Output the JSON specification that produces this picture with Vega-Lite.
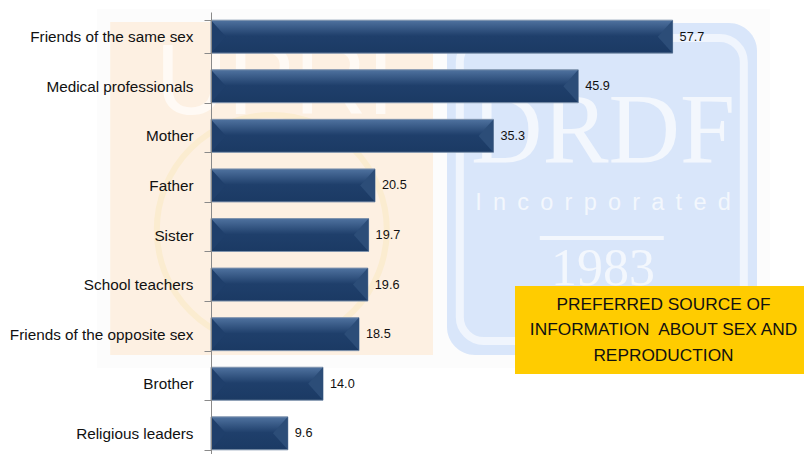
{
"$schema":"https://vega.github.io/schema/vega-lite/v6.json",
"width":593,"height":446,
"padding":{"left":211,"top":12,"right":0,"bottom":0},
"autosize":{"type":"none"},
"background":"white",
"view":{"stroke":null},
"config":{"font":"Liberation Sans"},
"datasets":{
"bars":[
{"source":"Friends of the same sex","pct":57.7,"label":"57.7"},
{"source":"Medical professionals","pct":45.9,"label":"45.9"},
{"source":"Mother","pct":35.3,"label":"35.3"},
{"source":"Father","pct":20.5,"label":"20.5"},
{"source":"Sister","pct":19.7,"label":"19.7"},
{"source":"School teachers","pct":19.6,"label":"19.6"},
{"source":"Friends of the opposite sex","pct":18.5,"label":"18.5"},
{"source":"Brother","pct":14.0,"label":"14.0"},
{"source":"Religious leaders","pct":9.6,"label":"9.6"}
]},
"resolve":{"scale":{"y":"independent"},"axis":{"y":"independent"}},
"layer":[
{"data":{"values":[{"a":-14.25,"b":69.9,"t":-3,"u":356}]},
 "mark":{"type":"rect","color":"#fcfcfc","clip":false},
 "encoding":{"x":{"field":"a","type":"quantitative","scale":{"domain":[0,74.125],"nice":false,"zero":false},"axis":null},"x2":{"field":"b"},
  "y":{"field":"t","type":"quantitative","scale":{"domain":[446,0],"nice":false},"axis":null},"y2":{"field":"u"}}},
{"data":{"values":[{"a":-12.6,"b":27.75,"t":10,"u":343}]},
 "mark":{"type":"rect","color":"#fdf0e2"},
 "encoding":{"x":{"field":"a","type":"quantitative","axis":null},"x2":{"field":"b"},
  "y":{"field":"t","type":"quantitative","scale":{"domain":[446,0],"nice":false},"axis":null},"y2":{"field":"u"}}},
{"data":{"values":[{"cx":7.6,"cy":218}]},
 "mark":{"type":"point","shape":"circle","size":52900,"filled":false,"opacity":1,"stroke":"#fbecd0","strokeWidth":6},
 "encoding":{"x":{"field":"cx","type":"quantitative","axis":null},
  "y":{"field":"cy","type":"quantitative","scale":{"domain":[446,0],"nice":false},"axis":null}}},
{"data":{"values":[{"s":"UPRI","x":8,"y":72}]},
 "mark":{"type":"text","fontSize":100,"color":"#fffaf5","align":"center","baseline":"middle"},
 "encoding":{"x":{"field":"x","type":"quantitative","axis":null},"y":{"field":"y","type":"quantitative","scale":{"domain":[446,0],"nice":false},"axis":null},"text":{"field":"s"}}},
{"data":{"values":[{"a":29.5,"b":68.25,"t":11,"u":343}]},
 "mark":{"type":"rect","color":"#d9e6fa","cornerRadius":28},
 "encoding":{"x":{"field":"a","type":"quantitative","axis":null},"x2":{"field":"b"},
  "y":{"field":"t","type":"quantitative","scale":{"domain":[446,0],"nice":false},"axis":null},"y2":{"field":"u"}}},
{"data":{"values":[{"a":31.1,"b":66.6,"t":26,"u":329}]},
 "mark":{"type":"rect","fillOpacity":0,"stroke":"#f0f5fd","strokeWidth":8,"cornerRadius":24},
 "encoding":{"x":{"field":"a","type":"quantitative","axis":null},"x2":{"field":"b"},
  "y":{"field":"t","type":"quantitative","scale":{"domain":[446,0],"nice":false},"axis":null},"y2":{"field":"u"}}},
{"data":{"values":[{"a":41.1,"b":56.6,"t":224,"u":228}]},
 "mark":{"type":"rect","color":"#f3f7fd"},
 "encoding":{"x":{"field":"a","type":"quantitative","axis":null},"x2":{"field":"b"},
  "y":{"field":"t","type":"quantitative","scale":{"domain":[446,0],"nice":false},"axis":null},"y2":{"field":"u"}}},
{"data":{"values":[{"s":"DRDF","x":49,"y":120,"z":99},{"s":"1983","x":49,"y":257,"z":52}]},
 "mark":{"type":"text","font":"Liberation Serif","color":"#f3f7fd","align":"center","baseline":"middle"},
 "encoding":{"x":{"field":"x","type":"quantitative","axis":null},"y":{"field":"y","type":"quantitative","scale":{"domain":[446,0],"nice":false},"axis":null},
  "text":{"field":"s"},"size":{"field":"z","type":"quantitative","scale":null,"legend":null}}},
{"data":{"values":[{"s":"I\u00a0\u2009n\u00a0\u2009c\u00a0\u2009o\u00a0\u2009r\u00a0\u2009p\u00a0\u2009o\u00a0\u2009r\u00a0\u2009a\u00a0\u2009t\u00a0\u2009e\u00a0\u2009d","x":49,"y":191}]},
 "mark":{"type":"text","fontSize":23.5,"color":"#f3f7fd","align":"center","baseline":"middle"},
 "encoding":{"x":{"field":"x","type":"quantitative","axis":null},"y":{"field":"y","type":"quantitative","scale":{"domain":[446,0],"nice":false},"axis":null},"text":{"field":"s"}}},
{"data":{"name":"bars"},
 "mark":{"type":"bar","stroke":"#7f93ad","strokeWidth":1,"color":{"gradient":"linear","x1":0,"y1":0,"x2":0,"y2":1,"stops":[{"offset":0,"color":"#4f729f"},{"offset":0.48,"color":"#1f3f6b"},{"offset":1,"color":"#1b3a64"}]}},
 "encoding":{"y":{"field":"source","type":"nominal","sort":null,"title":null,
   "scale":{"paddingInner":0.335,"paddingOuter":0.165},
   "axis":{"tickBand":"extent","tickSize":7,"tickColor":"#8a8a8a","domainColor":"#8a8a8a","labelFontSize":15.3,"labelColor":"#111","labelPadding":11,"labelLimit":220,"zindex":1}},
  "x":{"field":"pct","type":"quantitative","axis":null}}},
{"data":{"name":"bars"},
 "mark":{"type":"point","filled":true,"opacity":1,"size":1089,"color":"#1f3f6b","shape":"M0,-1L0.9,0L0,1Z"},
 "encoding":{"y":{"field":"source","type":"nominal","sort":null,"title":null,"scale":{"paddingInner":0.335,"paddingOuter":0.165},"axis":null},"x":{"datum":0,"type":"quantitative","axis":null}}},
{"data":{"name":"bars"},
 "mark":{"type":"point","filled":true,"opacity":1,"size":1089,"color":"#2c4d78","shape":"M0,-1L-0.9,0L0,1Z"},
 "encoding":{"y":{"field":"source","type":"nominal","sort":null,"title":null,"scale":{"paddingInner":0.335,"paddingOuter":0.165},"axis":null},"x":{"field":"pct","type":"quantitative","axis":null}}},
{"data":{"name":"bars"},
 "mark":{"type":"text","align":"left","baseline":"middle","dx":7,"fontSize":12.7,"color":"#111"},
 "encoding":{"y":{"field":"source","type":"nominal","sort":null,"title":null,"scale":{"paddingInner":0.335,"paddingOuter":0.165},"axis":null},"x":{"field":"pct","type":"quantitative","axis":null},"text":{"field":"label"}}},
{"data":{"values":[{"a":38,"b":74.125,"t":274,"u":362}]},
 "mark":{"type":"rect","color":"#ffcc00"},
 "encoding":{"x":{"field":"a","type":"quantitative","axis":null},"x2":{"field":"b"},
  "y":{"field":"t","type":"quantitative","scale":{"domain":[446,0],"nice":false},"axis":null},"y2":{"field":"u"}}},
{"data":{"values":[{"s":"PREFERRED SOURCE OF","x":56.56,"y":293},{"s":"INFORMATION\u00a0 ABOUT SEX AND","x":56.56,"y":318},{"s":"REPRODUCTION","x":56.56,"y":344}]},
 "mark":{"type":"text","fontSize":17.3,"color":"#111","align":"center","baseline":"middle"},
 "encoding":{"x":{"field":"x","type":"quantitative","axis":null},"y":{"field":"y","type":"quantitative","scale":{"domain":[446,0],"nice":false},"axis":null},"text":{"field":"s"}}}
]
}
